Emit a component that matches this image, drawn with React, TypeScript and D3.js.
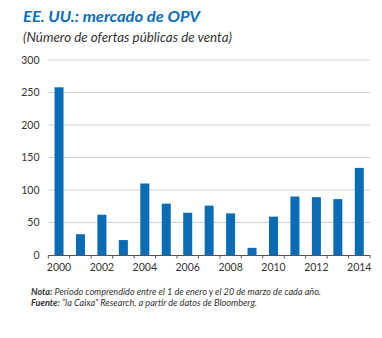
import React from "react";
import * as d3 from "d3";

const years = ["2000","2001","2002","2003","2004","2005","2006","2007","2008","2009","2010","2011","2012","2013","2014"];
const offers = [258, 32, 62, 23, 110, 79, 65, 76, 64, 11, 59, 90, 89, 86, 134];
const yTicks = [0, 50, 100, 150, 200, 250, 300];
const xLabels = ["2000","2002","2004","2006","2008","2010","2012","2014"];

const W = 382, H = 338;
const left = 48.3, right = 370, top = 60, bottom = 255;
const BLUE = "#0b6cb6";
const FONT = "Lato, 'Open Sans', sans-serif";

export default function App() {
  const x = d3.scaleBand<string>().domain(years).range([left, right]).paddingInner(0.58).paddingOuter(0.29);
  const y = d3.scaleLinear().domain([0, 300]).range([bottom, top]);
  const step = x.step();
  const r0 = x.range()[0];
  const boundaries = d3.range(years.length + 1).map((i) => r0 + i * step);
  return (
    <svg width={W} height={H} style={{ position: "absolute", left: 0, top: 0, background: "#fff" }} fontFamily={FONT}>
      <text x={23} y={22} fill={BLUE} fontSize={16} fontWeight="bold" fontStyle="italic" textLength={177} lengthAdjust="spacingAndGlyphs">EE. UU.: mercado de OPV</text>
      <text x={23} y={42} fill="#333" fontSize={13} fontStyle="italic" textLength={209} lengthAdjust="spacingAndGlyphs">(Número de ofertas públicas de venta)</text>
      {yTicks.map((t) => (
        <g key={t}>
          {t > 0 && <line x1={left} x2={right} y1={y(t)} y2={y(t)} stroke="#cfcfcf" strokeWidth={1} />}
          <text x={39.5} y={y(t) + 3.5} textAnchor="end" fontSize={10.5} fill="#333">{t}</text>
        </g>
      ))}
      {years.map((yr, i) => (
        <rect key={yr} x={x(yr)} y={y(offers[i])} width={x.bandwidth()} height={bottom - y(offers[i])} fill={BLUE} />
      ))}
      <line x1={left} x2={right} y1={bottom + 0.5} y2={bottom + 0.5} stroke="#555" strokeWidth={1} />
      {boundaries.map((bx, i) => (
        <line key={i} x1={bx} x2={bx} y1={bottom} y2={bottom + 3.5} stroke="#555" strokeWidth={1} />
      ))}
      {xLabels.map((yr) => (
        <text key={yr} x={(x(yr) as number) + x.bandwidth() / 2} y={271} textAnchor="middle" fontSize={10.5} fill="#333">{yr}</text>
      ))}
      <text x={31} y={295} fontSize={10} fontStyle="italic" fill="#333" textLength={290} lengthAdjust="spacingAndGlyphs">
        <tspan fontWeight="bold">Nota:</tspan> Periodo comprendido entre el 1 de enero y el 20 de marzo de  cada año.
      </text>
      <text x={31} y={306} fontSize={10} fontStyle="italic" fill="#333" textLength={226} lengthAdjust="spacingAndGlyphs">
        <tspan fontWeight="bold">Fuente:</tspan> “la Caixa” Research, a partir de datos de Bloomberg.
      </text>
    </svg>
  );
}
